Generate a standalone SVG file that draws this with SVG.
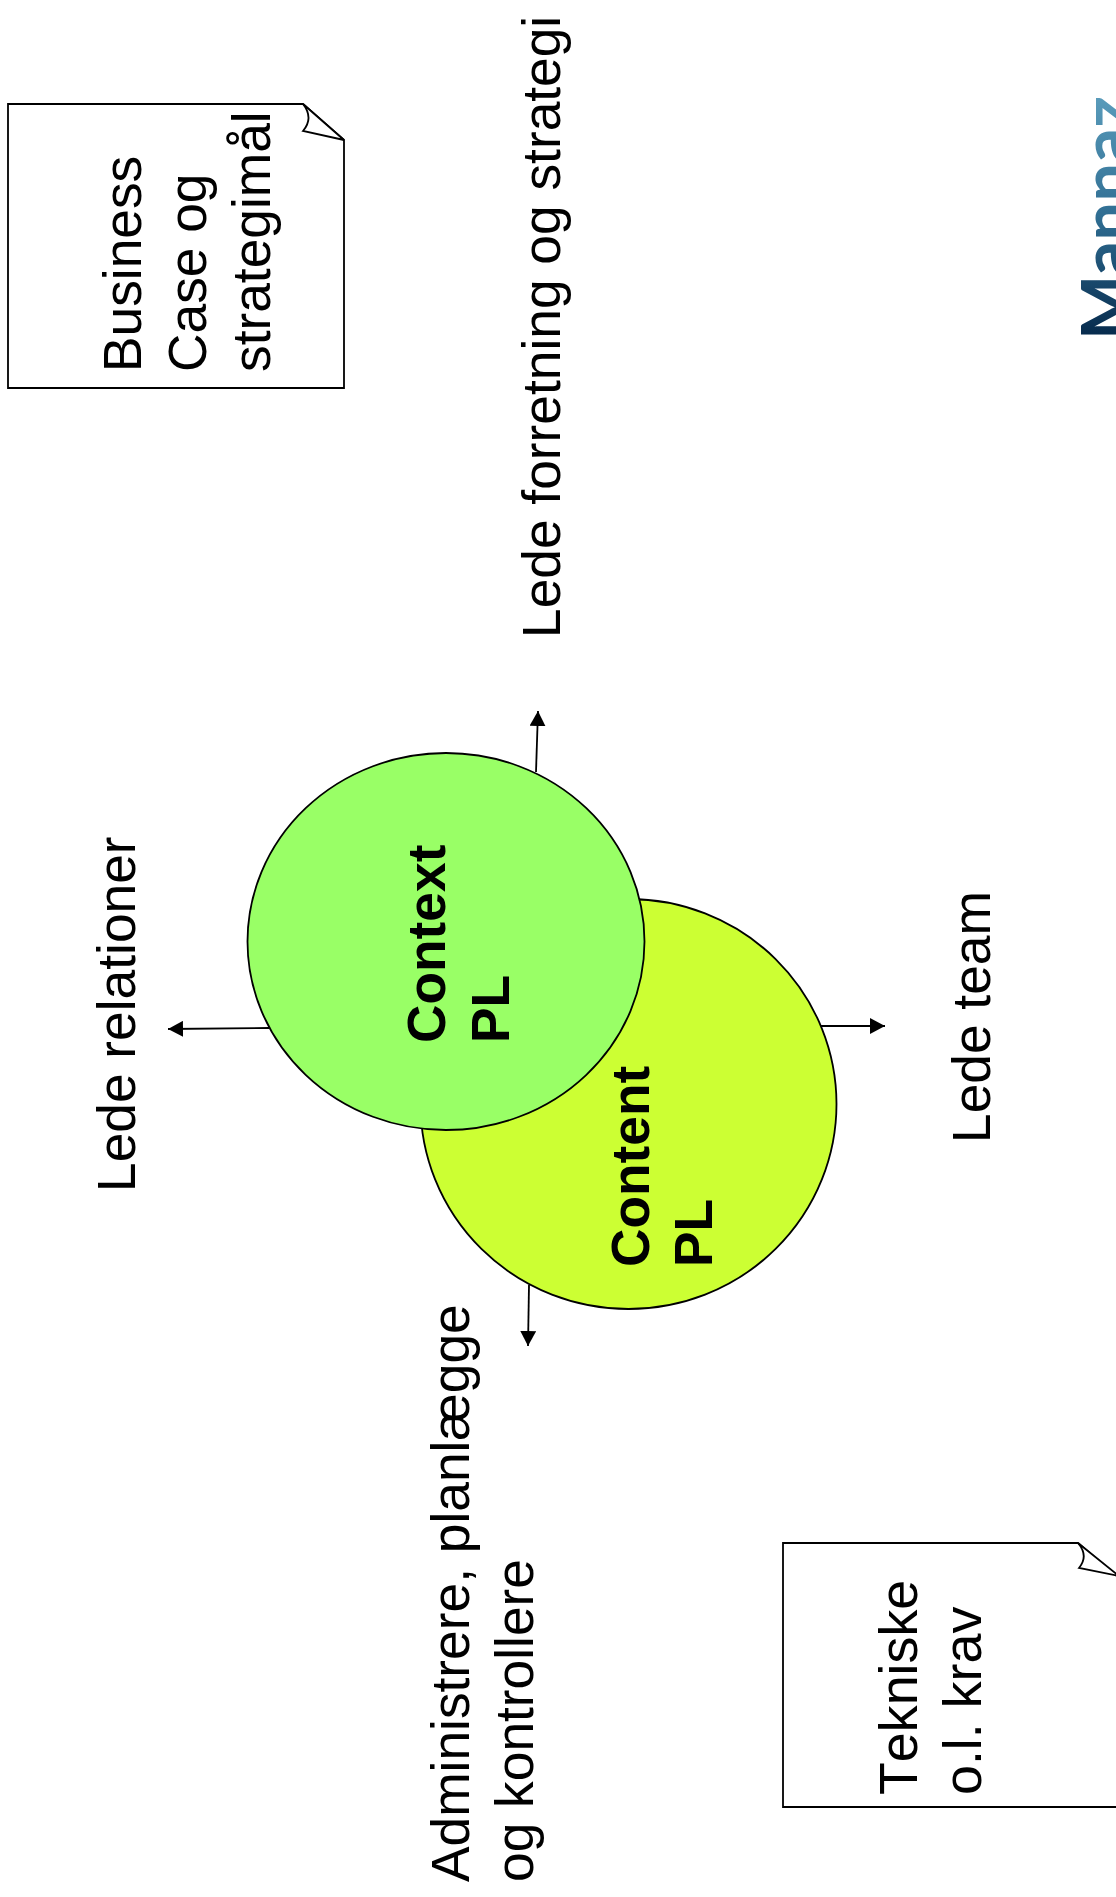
<svg xmlns="http://www.w3.org/2000/svg" width="1116" height="1897" viewBox="0 0 1116 1897">
<style>
text{font-family:"Liberation Sans",Arial,sans-serif;font-size:53.300px;fill:#000}
.b{font-weight:bold}
.t{font-size:53.800px;font-kerning:none}
.s{stroke:#000;stroke-width:1.8;stroke-linejoin:miter}
.c{stroke:#000;stroke-width:1.8;fill:none}
.logo{font-family:Lato,sans-serif;font-weight:bold;font-size:69px;fill:url(#g)}
</style>
<defs>
<marker id="a" markerUnits="userSpaceOnUse" markerWidth="16" markerHeight="16" refX="15" refY="8" orient="auto"><path d="M0 0L15 8L0 16Z" fill="#000"/></marker>
<linearGradient id="g" gradientUnits="userSpaceOnUse" x1="0" y1="0" x2="245" y2="0"><stop offset="0" stop-color="#05284a"/><stop offset=".5" stop-color="#2f6d92"/><stop offset="1" stop-color="#5a9cbb"/></linearGradient>
</defs>
<rect width="1116" height="1897" fill="#fff"/>
<g id="note-business">
<path class="s" fill="#fff" d="M8 104H303L344 140V388H8Z"/>
<path class="s" fill="#fff" d="M303 104Q314 118 303 131L344 140Z"/>
<text transform="translate(141 372) rotate(-90)">Business</text>
<text transform="translate(206 372) rotate(-90)">Case og</text>
<text transform="translate(270 372) rotate(-90)">strategimål</text>
</g>
<g id="note-teknisk">
<path class="s" fill="#fff" d="M783 1543H1078L1119 1578V1807H783Z"/>
<path class="s" fill="#fff" d="M1078 1543Q1089 1556 1079 1568L1119 1576Z"/>
<text class="t" transform="translate(917 1795) rotate(-90)">Tekniske</text>
<text class="t" transform="translate(981 1795) rotate(-90)">o.l. krav</text>
</g>
<g id="connectors">
<path class="c" marker-end="url(#a)" d="M536 772L538 711"/>
<path class="c" marker-end="url(#a)" d="M269 1028L168 1029"/>
<path class="c" marker-end="url(#a)" d="M821 1026L885 1026"/>
<path class="c" marker-end="url(#a)" d="M529 1285L528 1346"/>
</g>
<g id="node-content">
<ellipse class="s" cx="628.500" cy="1104" rx="208" ry="205" fill="#ccff33"/>
<text class="b" transform="translate(649 1267) rotate(-90)">Content</text>
<text class="b" transform="translate(712 1267) rotate(-90)">PL</text>
</g>
<g id="node-context">
<ellipse class="s" cx="446" cy="941.500" rx="198.500" ry="188.500" fill="#99ff66"/>
<text class="b" transform="translate(445 1043) rotate(-90)">Context</text>
<text class="b" transform="translate(509 1043) rotate(-90)">PL</text>
</g>
<g id="label-forretning"><text transform="translate(560 638) rotate(-90)">Lede forretning og strategi</text></g>
<g id="label-relationer"><text transform="translate(135 1192) rotate(-90)">Lede relationer</text></g>
<g id="label-team"><text transform="translate(990 1143) rotate(-90)">Lede team</text></g>
<g id="label-administrere">
<text transform="translate(469 1882) rotate(-90)">Administrere, planlægge</text>
<text transform="translate(533 1882) rotate(-90)">og kontrollere</text>
</g>
<g id="logo"><text class="logo" transform="translate(1131 340) rotate(-90)">Mannaz</text></g>
</svg>
